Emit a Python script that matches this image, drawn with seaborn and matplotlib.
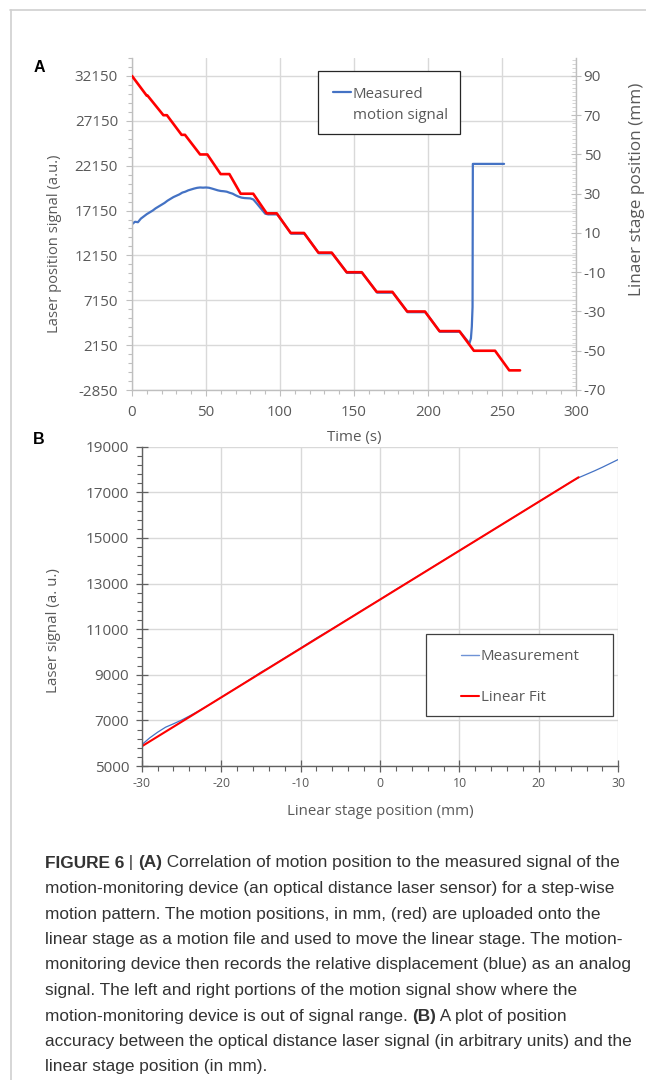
"""
Figure 6 - step-wise motion test of the laser sensor and position accuracy
"""

import numpy as np
import seaborn as sns
import matplotlib.pyplot as plt
from matplotlib.lines import Line2D
from matplotlib.patches import Rectangle
from matplotlib.ticker import FixedLocator

# --- panel A data ---
# linear stage motion file (red, right axis, mm)
stage_t = [0, 9.9, 10.5, 21.2, 23.6, 33.5, 35.8, 46.0, 50.9, 59.9, 65.8, 73.4, 81.9,
           91.0, 97.8, 107.2, 116.2, 125.9, 134.9, 145.0, 155.2, 165.3, 175.9,
           185.9, 197.9, 207.7, 221.2, 231.0, 245.3, 254.9, 262.2]
stage_mm = [90, 80, 80, 70, 70, 60, 60, 50, 50, 40, 40, 30, 30,
            20, 20, 10, 10, 0, 0, -10, -10, -20, -20,
            -30, -30, -40, -40, -50, -50, -60, -60]

# measured motion signal (blue, left axis, a.u.)
laser_t = [0, 2, 4, 6, 8, 10, 12, 14, 16, 18, 20, 22, 24, 26, 28, 30, 32, 34, 36, 38,
           40, 42, 44, 46, 48, 50, 52, 54, 56, 58, 60, 62, 64, 66, 68, 70, 72, 74, 76,
           78, 80, 82, 84, 86, 88, 90, 92, 98.2, 107.6, 116.6, 126.3, 135.3, 145.4,
           155.6, 165.7, 176.3, 186.3, 198.3, 208.1, 221.6, 228.0, 229.0, 229.6,
           230.1, 230.3, 251.4]
laser_au = [15620, 15900, 15850, 16250, 16500, 16750, 16950, 17150, 17400, 17600,
            17800, 18000, 18250, 18450, 18650, 18800, 18950, 19150, 19250, 19400,
            19500, 19600, 19680, 19720, 19700, 19720, 19690, 19600, 19500, 19400,
            19330, 19300, 19250, 19130, 19030, 18850, 18700, 18590, 18540, 18520,
            18500, 18380, 18000, 17600, 17200, 16800, 16720, 16720, 14570, 14570,
            12380, 12380, 10200, 10200, 8000, 8000, 5820, 5820, 3640, 3640,
            2350, 2900, 4200, 6400, 22350, 22350]

left_ticks = [-2850, 2150, 7150, 12150, 17150, 22150, 27150, 32150]
right_ticks = [-70, -50, -30, -10, 10, 30, 50, 70, 90]
time_ticks = [0, 50, 100, 150, 200, 250, 300]

# --- panel B data ---
meas_pos = [-30, -29, -28, -27, -26, -25, -24, -23, -22, -21, -20, -18, -16, -15, -14,
            -12, -10, -8, -6, -4, -2, 0, 2, 4, 6, 8, 10, 12, 14, 16, 18, 20, 22, 24,
            25, 26, 27, 28, 29, 30]
meas_sig = [5930, 6230, 6480, 6700, 6850, 7010, 7190, 7380, 7580, 7790, 8010, 8440,
            8880, 9110, 9310, 9740, 10170, 10610, 11020, 11450, 11880, 12300, 12740,
            13160, 13590, 14020, 14450, 14870, 15300, 15730, 16160, 16590, 17020,
            17450, 17640, 17790, 17940, 18100, 18270, 18440]
fit_pos = [-30, 25]
fit_sig = [5860, 17660]

pos_ticks = [-30, -20, -10, 0, 10, 20, 30]
sig_ticks = [5000, 7000, 9000, 11000, 13000, 15000, 17000, 19000]

caption = [
    [("FIGURE 6", "bold"), (" | ", "normal"), ("(A)", "bold"),
     (" Correlation of motion position to the measured signal of the", "normal")],
    [("motion-monitoring device (an optical distance laser sensor) for a step-wise", "normal")],
    [("motion pattern. The motion positions, in mm, (red) are uploaded onto the", "normal")],
    [("linear stage as a motion file and used to move the linear stage. The motion-", "normal")],
    [("monitoring device then records the relative displacement (blue) as an analog", "normal")],
    [("signal. The left and right portions of the motion signal show where the", "normal")],
    [("motion-monitoring device is out of signal range. ", "normal"), ("(B)", "bold"),
     (" A plot of position", "normal")],
    [("accuracy between the optical distance laser signal (in arbitrary units) and the", "normal")],
    [("linear stage position (in mm).", "normal")],
]

BLUE = "#4472C4"
RED = "#FF0000"
GRID = "#D9D9D9"
TXT = "#595959"

sns.set_theme(style="white")
plt.rcParams["font.family"] = ["Open Sans", "DejaVu Sans"]
plt.rcParams["axes.unicode_minus"] = False

W, H = 646, 1080
fig = plt.figure(figsize=(W / 100, H / 100), dpi=100)


def fbox(x0, y0, x1, y1):
    # pixel box (top-left origin) -> figure fraction rect
    return [x0 / W, 1 - y1 / H, (x1 - x0) / W, (y1 - y0) / H]


# ================= panel A =================
ax_a = fig.add_axes(fbox(132, 58, 576, 390))
sns.lineplot(x=laser_t, y=laser_au, ax=ax_a, color=BLUE, linewidth=1.6,
             sort=False, estimator=None)
ax_a.set_xlim(0, 300)
ax_a.set_ylim(-2850, 34150)
ax_a.set_xticks(time_ticks)
ax_a.set_yticks(left_ticks)
ax_a.xaxis.set_minor_locator(FixedLocator(np.arange(0, 301, 10)))
ax_a.yaxis.set_minor_locator(FixedLocator(np.arange(-2850, 34151, 1000)))
ax_a.grid(True, which="major", color=GRID, linewidth=1.0)
ax_a.set_axisbelow(True)
for s in ["top", "right"]:
    ax_a.spines[s].set_visible(False)
for s in ["left", "bottom"]:
    ax_a.spines[s].set_color("#BFBFBF")
    ax_a.spines[s].set_linewidth(1.0)
ax_a.tick_params(axis="both", which="both", direction="out", color="#BFBFBF",
                 left=True, bottom=True, width=0.8)
ax_a.tick_params(axis="both", which="major", length=4, labelsize=10.9,
                 labelcolor=TXT)
ax_a.tick_params(axis="x", which="major", pad=7)
ax_a.tick_params(axis="y", which="major", pad=6)
ax_a.tick_params(axis="both", which="minor", length=3)
ax_a.set_xlabel("Time (s)", fontsize=10.9, color=TXT)
ax_a.set_ylabel("Laser position signal (a.u.)", fontsize=10.6, color=TXT)
ax_a.xaxis.set_label_coords(0.5, -0.12)
ax_a.yaxis.set_label_coords(-0.157, 0.44)

ax_r = ax_a.twinx()
sns.lineplot(x=stage_t, y=stage_mm, ax=ax_r, color=RED, linewidth=1.9,
             sort=False, estimator=None)
ax_r.set_ylim(-70, 90 + 2000 / 35000 * 160)
ax_r.set_yticks(right_ticks)
ax_r.yaxis.set_minor_locator(FixedLocator(np.arange(-70, 99, 2)))
ax_r.grid(False)
for s in ["top", "left", "bottom"]:
    ax_r.spines[s].set_visible(False)
ax_r.spines["right"].set_color("#BFBFBF")
ax_r.spines["right"].set_linewidth(1.0)
ax_r.tick_params(axis="y", which="major", direction="inout", color="#BFBFBF",
                 right=True, width=0.8, length=7, labelsize=11,
                 labelcolor=TXT, pad=2)
ax_r.tick_params(axis="y", which="minor", direction="in", color="#CFCFCF",
                 right=True, width=0.6, length=3)
ax_r.set_ylabel("Linaer stage position (mm)", fontsize=12.3, color=TXT)
ax_r.yaxis.set_label_coords(1.119, 0.605)

# legend A (Excel style: handle on first line only)
ax_r.add_patch(Rectangle((317.5 / W, 1 - 134 / H), 142.5 / W, 63.3 / H,
                         transform=fig.transFigure, facecolor="white",
                         edgecolor="#262626", linewidth=0.9, zorder=4,
                         clip_on=False))
leg_a = ax_r.legend(handles=[Line2D([], [], color=BLUE, linewidth=1.6),
                             Line2D([], [], linestyle="none")],
                    labels=["Measured", "motion signal"],
                    loc="upper left", bbox_to_anchor=(333 / W, 1 - 86.5 / H),
                    bbox_transform=fig.transFigure, frameon=False,
                    fontsize=10.8, borderpad=0, borderaxespad=0,
                    handlelength=1.2, handletextpad=0.12, labelspacing=0.42)
for t in leg_a.get_texts():
    t.set_color(TXT)
leg_a.set_zorder(5)

fig.text(39 / W, 1 - 67.5 / H, "A", fontsize=11.5, fontweight="bold",
         family=["Liberation Sans", "DejaVu Sans"], ha="center", va="center",
         color="black")

# ================= panel B =================
ax_b = fig.add_axes(fbox(141.7, 446.7, 618.3, 766))
sns.lineplot(x=meas_pos, y=meas_sig, ax=ax_b, color=BLUE, linewidth=0.9,
             sort=False, estimator=None)
sns.lineplot(x=fit_pos, y=fit_sig, ax=ax_b, color=RED, linewidth=1.5,
             sort=False, estimator=None)
ax_b.set_xlim(-30, 30)
ax_b.set_ylim(5000, 19000)
ax_b.set_xticks(pos_ticks)
ax_b.set_yticks(sig_ticks)
ax_b.xaxis.set_minor_locator(FixedLocator(np.arange(-30, 31, 2)))
ax_b.yaxis.set_minor_locator(FixedLocator(np.arange(5000, 19001, 400)))
ax_b.grid(True, which="major", color=GRID, linewidth=1.0)
ax_b.set_axisbelow(True)
for s in ["top", "right"]:
    ax_b.spines[s].set_visible(False)
for s in ["left", "bottom"]:
    ax_b.spines[s].set_color("#606060")
    ax_b.spines[s].set_linewidth(1.0)
ax_b.tick_params(axis="both", which="major", direction="inout", length=8,
                 width=0.9, color="#606060", left=True, bottom=True,
                 labelcolor=TXT)
ax_b.tick_params(axis="both", which="minor", direction="out", length=3.5,
                 width=0.8, color="#606060", left=True, bottom=True)
ax_b.tick_params(axis="x", which="major", labelsize=8.8, pad=4)
ax_b.tick_params(axis="y", which="major", labelsize=11, pad=5)
ax_b.set_xlabel("Linear stage position (mm)", fontsize=10.8, color=TXT)
ax_b.set_ylabel("Laser signal (a. u.)", fontsize=10.8, color=TXT)
ax_b.xaxis.set_label_coords(0.5, -0.119)
ax_b.yaxis.set_label_coords(-0.169, 0.423)

ax_b.add_patch(Rectangle((426 / W, 1 - 715.7 / H), 186.7 / W, 81.7 / H,
                         transform=fig.transFigure, facecolor="white",
                         edgecolor="#404040", linewidth=0.9, zorder=4,
                         clip_on=False))
leg_b = ax_b.legend(handles=[Line2D([], [], color="#6F93D6", linewidth=1.0),
                             Line2D([], [], color=RED, linewidth=1.5)],
                    labels=["Measurement", "Linear Fit"],
                    loc="upper left", bbox_to_anchor=(461 / W, 1 - 649 / H),
                    bbox_transform=fig.transFigure, frameon=False,
                    fontsize=10.9, borderpad=0, borderaxespad=0,
                    handlelength=1.2, handletextpad=0.1, labelspacing=1.72)
for t in leg_b.get_texts():
    t.set_color(TXT)
leg_b.set_zorder(5)

fig.text(39 / W, 1 - 440 / H, "B", fontsize=11.5, fontweight="bold",
         family=["Liberation Sans", "DejaVu Sans"], ha="center", va="center",
         color="black")

# ================= frame + caption =================
fig.add_artist(Line2D([10.5 / W, 10.5 / W], [0, 1 - 10 / H],
                      transform=fig.transFigure, color="#D0D0D0", linewidth=1.2))
fig.add_artist(Line2D([10 / W, 1], [1 - 10 / H, 1 - 10 / H],
                      transform=fig.transFigure, color="#D0D0D0", linewidth=1.2))

renderer = fig.canvas.get_renderer()
cap_family = ["Liberation Sans", "DejaVu Sans"]
cap_size = 12.45


def seg_width(text, weight):
    a = fig.text(0, 0, "|" + text + "|", fontsize=cap_size, fontweight=weight,
                 family=cap_family)
    b = fig.text(0, 0, "||", fontsize=cap_size, fontweight=weight,
                 family=cap_family)
    w = a.get_window_extent(renderer).width - b.get_window_extent(renderer).width
    a.remove()
    b.remove()
    return w


for i, line in enumerate(caption):
    x = 45.0
    y = 863 + i * 25.5
    for text, weight in line:
        fig.text(x / W, 1 - y / H, text, fontsize=cap_size, fontweight=weight,
                 family=cap_family, color="#333333", ha="left", va="center")
        x += seg_width(text, weight)

fig.savefig("out.png", dpi=100)
